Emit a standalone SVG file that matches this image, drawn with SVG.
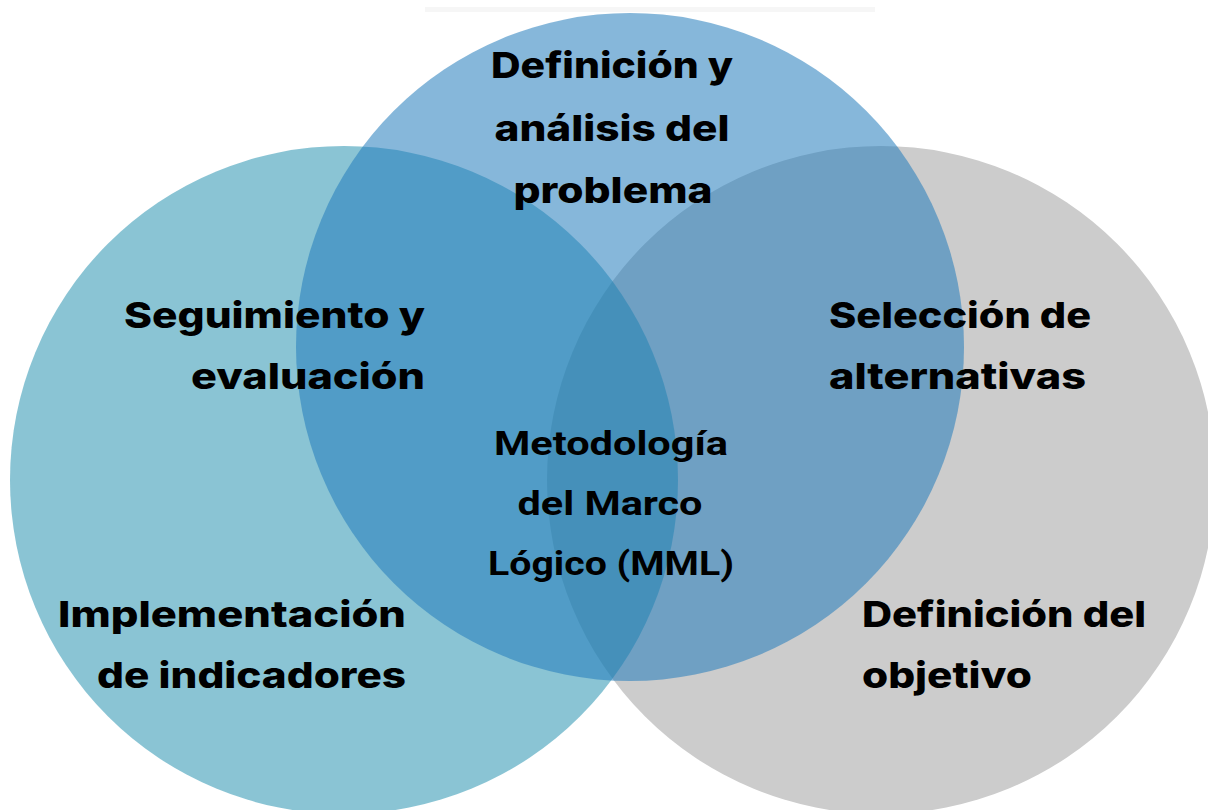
<svg xmlns="http://www.w3.org/2000/svg" width="1208" height="810" viewBox="0 0 1208 810">
  <style>
    .lbl { font-family: "Inter", "DejaVu Sans", sans-serif; font-weight: 800; font-size: 36px; fill: #000000; }
    .ctr { font-family: "Roboto", "Noto Sans", sans-serif; font-weight: 700; font-size: 33px; fill: #000000; }
    .gray { fill: #cccccc; }
    .teal { fill: rgb(11,132,165); fill-opacity: 0.48; }
    .blue { fill: rgb(34,124,188); fill-opacity: 0.55; }
  </style>
  <rect x="0" y="0" width="1208" height="810" fill="#ffffff"/>
  <rect x="425" y="7" width="450" height="5" fill="#f6f6f6"/>

  <g id="circle-objetivo">
    <circle class="gray" cx="881" cy="480" r="334"/>
  </g>
  <g id="circle-seguimiento">
    <circle class="teal" cx="344" cy="480" r="334"/>
  </g>
  <g id="circle-problema">
    <circle class="blue" cx="630" cy="347" r="334"/>
  </g>

  <g id="connectors"></g>

  <g id="node-problema">
    <text class="lbl" x="612" y="78" text-anchor="middle" textLength="242" lengthAdjust="spacingAndGlyphs">Definición y</text>
    <text class="lbl" x="612" y="141" text-anchor="middle" textLength="235" lengthAdjust="spacingAndGlyphs">análisis del</text>
    <text class="lbl" x="613" y="203" text-anchor="middle" textLength="199" lengthAdjust="spacingAndGlyphs">problema</text>
  </g>

  <g id="node-seguimiento">
    <text class="lbl" x="124" y="328" textLength="301" lengthAdjust="spacingAndGlyphs">Seguimiento y</text>
    <text class="lbl" x="191" y="389" textLength="234" lengthAdjust="spacingAndGlyphs">evaluación</text>
  </g>

  <g id="node-seleccion">
    <text class="lbl" x="829" y="328" textLength="262" lengthAdjust="spacingAndGlyphs">Selección de</text>
    <text class="lbl" x="829" y="389" textLength="257" lengthAdjust="spacingAndGlyphs">alternativas</text>
  </g>

  <g id="node-mml">
    <text class="ctr" x="611" y="455" text-anchor="middle" textLength="234" lengthAdjust="spacingAndGlyphs">Metodología</text>
    <text class="ctr" x="610" y="515" text-anchor="middle" textLength="185" lengthAdjust="spacingAndGlyphs">del Marco</text>
    <text class="ctr" x="611" y="575" text-anchor="middle" textLength="246" lengthAdjust="spacingAndGlyphs">Lógico (MML)</text>
  </g>

  <g id="node-implementacion">
    <text class="lbl" x="58" y="627" textLength="348" lengthAdjust="spacingAndGlyphs">Implementación</text>
    <text class="lbl" x="97" y="688" textLength="309" lengthAdjust="spacingAndGlyphs">de indicadores</text>
  </g>

  <g id="node-objetivo">
    <text class="lbl" x="862" y="627" textLength="284" lengthAdjust="spacingAndGlyphs">Definición del</text>
    <text class="lbl" x="862" y="688" textLength="170" lengthAdjust="spacingAndGlyphs">objetivo</text>
  </g>
</svg>
